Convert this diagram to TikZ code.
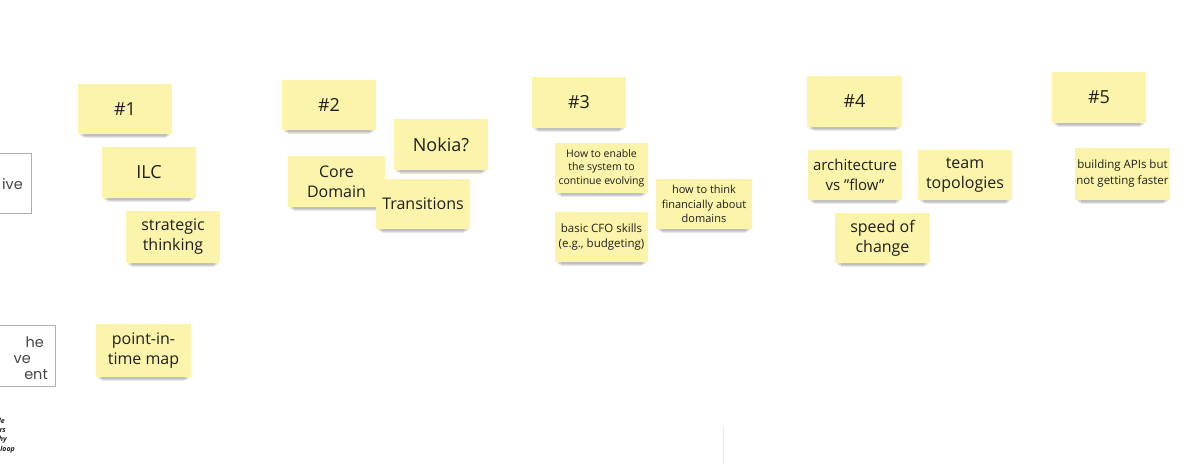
\documentclass[tikz,border=0pt]{standalone}
\usepackage{fontspec}
\setmainfont{Open Sans}
\newfontfamily\boxfont{Poppins}
\definecolor{notey}{RGB}{252,244,170}
\definecolor{notetext}{RGB}{30,30,30}
\definecolor{framegray}{RGB}{175,175,175}
\definecolor{boxtext}{RGB}{70,70,70}
\tikzset{
  sticky/.style={fill=notey, inner sep=0pt, align=center, text=notetext},
  shadowbox/.style={fill=black, opacity=0.09},
  leftframe/.style={draw=framegray, line width=0.8pt},
  lefttext/.style={inner sep=0pt, text=boxtext, font=\boxfont\fontsize{14.5}{17}\selectfont},
  tinytext/.style={inner sep=0pt, text=notetext, font=\fontsize{7}{8}\selectfont\bfseries\itshape},
}
% name, x1, y1, x2, y2, fontsize, leading, text
\newcommand{\mknote}[8]{%
  \fill[shadowbox] (#2+6,#5-5) rectangle (#4-6,#5+4);
  \fill[shadowbox] (#2+4,#5-5) rectangle (#4-4,#5+3);
  \fill[shadowbox] (#2+2,#5-5) rectangle (#4-2,#5+2);
  \node[sticky, minimum width={#4-#2}, minimum height={#5-#3},
        font=\fontsize{#6}{#7}\selectfont] (#1) at ({(#2+#4)/2},{(#3+#5)/2}) {#8};
}
\begin{document}
\begin{tikzpicture}[x=1pt, y=-1pt]
\useasboundingbox (0,0) rectangle (1200,464);
\fill[white] (0,0) rectangle (1200,464);

% left framed boxes (cut by the picture's edge)
\draw[leftframe] (-10,153) rectangle (31,213);
\node[lefttext, anchor=base east] (t1) at (23,189) {ive};
\draw[leftframe] (-10,325) rectangle (55,386);
\node[lefttext, anchor=base east] (t2a) at (44,347) {he};
\node[lefttext, anchor=base east] (t2b) at (31,363) {ve};
\node[lefttext, anchor=base east] (t2c) at (48,379) {ent};

% tiny text bottom left
\node[tinytext, anchor=base east] (s1) at (5,423) {le};
\node[tinytext, anchor=base east] (s2) at (6,432) {rs};
\node[tinytext, anchor=base east] (s3) at (7,441) {hy};
\node[tinytext, anchor=base east] (s4) at (15,451) {loop};

% faint vertical line
\draw[black!8, line width=1pt] (723,427) -- (723,464);

% column 1
\mknote{n1}{78}{84}{172}{134}{18}{22}{\#1}
\mknote{ilc}{102}{147}{196}{198}{18}{22}{ILC}
\mknote{strat}{126}{211}{220}{263}{16}{20}{strategic\\thinking}
\mknote{pit}{96}{324}{191}{377}{16}{20}{point-in-\\time map}

% column 2
\mknote{n2}{282}{80}{376}{130}{18}{22}{\#2}
\mknote{nokia}{394}{119}{488}{170}{18}{22}{Nokia?}
\mknote{core}{288}{156}{385}{207}{16}{20}{Core\\Domain}
\mknote{trans}{376}{179}{470}{229}{16}{20}{Transitions}

% column 3
\mknote{n3}{532}{77}{626}{128}{18}{22}{\#3}
\mknote{enable}{555}{143}{648}{193}{10.5}{13.5}{How to enable\\the system to\\continue evolving}
\mknote{fin}{656}{179}{752}{229}{11}{14.5}{how to think\\financially about\\domains}
\mknote{cfo}{555}{212}{648}{262}{11.5}{15}{basic CFO skills\\(e.g., budgeting)}

% column 4
\mknote{n4}{807}{76}{902}{127}{18}{22}{\#4}
\mknote{arch}{808}{150}{902}{200}{15}{20}{architecture\\vs \char"22 flow\char"22}
\mknote{team}{918}{150}{1012}{200}{16}{20}{team\\topologies}
\mknote{speed}{835}{213}{930}{263}{16}{20}{speed of\\change}

% column 5
\mknote{n5}{1052}{72}{1146}{123}{18}{22}{\#5}
\mknote{apis}{1075}{148}{1170}{200}{11.5}{16}{building APIs but\\not getting faster}
\end{tikzpicture}
\end{document}
